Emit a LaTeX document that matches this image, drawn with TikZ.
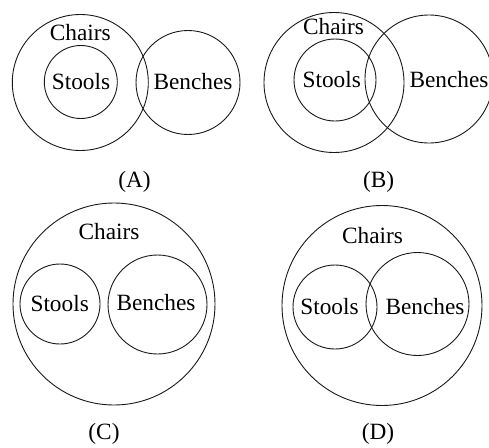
\documentclass[tikz,border=0pt]{standalone}
\usepackage{fontspec}
\setmainfont{Liberation Serif}
\begin{document}
\begin{tikzpicture}[x=1pt,y=-1pt,
  set/.style={circle,draw=black!90,line width=0.9pt,inner sep=0pt,minimum size=#1},
  lab/.style={anchor=base,inner sep=0pt,font=\fontsize{23.3}{28}\selectfont,text=black}]
\useasboundingbox (0,0) rectangle (489,447);
\begin{scope}
\clip (0,0) rectangle (489,447);
% (A)
\node[set=136pt] (ca) at (80.3,82.5) {};
\node[set=73pt] (sa) at (80.8,82) {};
\node[set=104pt] (ba) at (188,82.5) {};
\node[lab] (tca) at (80.3,40.5) {Chairs};
\node[lab] (tsa) at (81,89) {Stools};
\node[lab] (tba) at (193,89) {Benches};
\node[lab] (la) at (134.5,187) {(A)};
% (B)
\node[set=140pt] (cb) at (334,82.5) {};
\node[set=82pt] (sb) at (335,80) {};
\node[set=128pt] (bb) at (429,79) {};
\node[lab] (tcb) at (333.6,34) {Chairs};
\node[lab] (tsb) at (331.7,87.5) {Stools};
\node[lab] (tbb) at (449,87) {Benches};
\node[lab] (lb) at (378.7,187) {(B)};
% (C)
\node[set=202pt] (cc) at (114,304) {};
\node[set=80pt] (sc) at (60,304) {};
\node[set=99pt] (bc) at (157.5,304.5) {};
\node[lab] (tcc) at (109,239) {Chairs};
\node[lab] (tsc) at (59.7,311.5) {Stools};
\node[lab] (tbc) at (156,310) {Benches};
\node[lab] (lc) at (104,439) {(C)};
% (D)
\node[set=200pt] (cd) at (382,305.5) {};
\node[set=84pt] (sd) at (335,307) {};
\node[set=103pt] (bd) at (417.5,304) {};
\node[lab] (tcd) at (372.5,243) {Chairs};
\node[lab] (tsd) at (329.5,314) {Stools};
\node[lab] (tbd) at (425,314) {Benches};
\node[lab] (ld) at (378,439) {(D)};
\end{scope}
\end{tikzpicture}
\end{document}
